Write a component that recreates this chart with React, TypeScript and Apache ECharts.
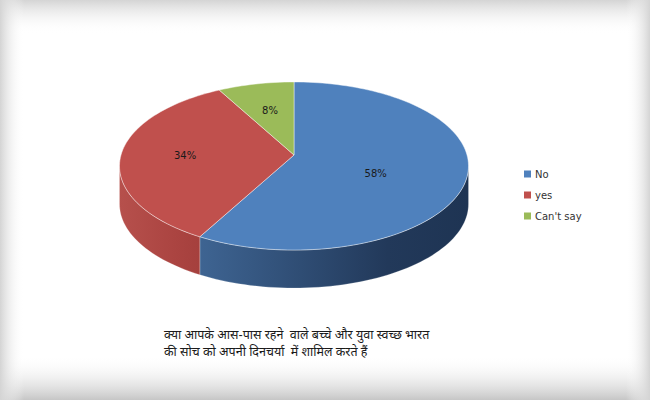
import React, { useEffect, useRef } from "react";
import * as echarts from "echarts";

// survey answers (percent)
const categories = ["No", "yes", "Can't say"];
const values = [58, 34, 8];
const topColors = ["#4f81bd", "#c0504d", "#9bbb59"];
const sideColors = [
  ["#3e6492", "#22395a", "#1e3453"],
  ["#b6504c", "#ab4441", "#a5403d"],
  ["#86a24a", "#7c9842", "#76913e"],
];
const labelRadius = [0.48, 0.63, 0.6];
const captionLines = [
  "क्या आपके आस-पास रहने  वाले बच्चे और युवा स्वच्छ भारत",
  "की सोच को अपनी दिनचर्या  में शामिल करते हैं",
];

// pie geometry (screen px)
const CX = 294;
const CY = 155;
const RX = 173;
const RY = 82.6;
const K = 0.131; // perspective
const DEPTH = 38;

const proj = (frac: number, r: number) => {
  const t = frac * Math.PI * 2;
  const u = r * Math.sin(t);
  const v = -r * Math.cos(t);
  const w = 1 / (1 - K * v);
  return [CX + RX * u * w, CY + RY * v * w];
};

const arc = (a: number, b: number) => {
  const pts: number[][] = [];
  const n = Math.max(2, Math.ceil((b - a) * 200));
  for (let i = 0; i <= n; i++) pts.push(proj(a + ((b - a) * i) / n, 1));
  return pts;
};

// visible front rim, as fractions of a turn
const FRONT_A = Math.acos(-K) / (Math.PI * 2);
const FRONT_B = 1 - FRONT_A;

const App: React.FC = () => {
  const chartRef = useRef<HTMLDivElement>(null);

  useEffect(() => {
    if (!chartRef.current) return;
    document.body.style.margin = "0";
    const myChart = echarts.init(chartRef.current, null, { renderer: "svg" });

    const total = values.reduce((s, v) => s + v, 0);
    const starts: number[] = [];
    let acc = 0;
    values.forEach((v) => {
      starts.push(acc / total);
      acc += v;
    });

    const series: any[] = categories.map((name, i) => ({
      name,
      type: "custom",
      coordinateSystem: "none",
      itemStyle: { color: topColors[i] },
      data: [[starts[i], starts[i] + values[i] / total, values[i]]],
      renderItem: (params: any, api: any) => {
        const a = api.value(0);
        const b = api.value(1);
        const children: any[] = [];
        const sa = Math.max(a, FRONT_A);
        const sb = Math.min(b, FRONT_B);
        if (sb > sa) {
          const rim = arc(sa, sb);
          const low = rim.map((p) => [p[0], p[1] + DEPTH]).reverse();
          children.push({
            type: "polygon",
            z2: 1,
            shape: { points: rim.concat(low) },
            style: {
              fill: new echarts.graphic.LinearGradient(0, 0, 1, 0, [
                { offset: 0, color: sideColors[i][0] },
                { offset: 0.7, color: sideColors[i][1] },
                { offset: 1, color: sideColors[i][2] },
              ]),
              stroke: "rgba(255,255,255,0.35)",
              lineWidth: 0.6,
            },
          });
        }
        children.push({
          type: "polygon",
          z2: 5,
          shape: { points: [[CX, CY]].concat(arc(a, b)) },
          style: {
            fill: topColors[i],
            stroke: "rgba(255,255,255,0.55)",
            lineWidth: 0.8,
          },
        });
        const lp = proj((a + b) / 2, labelRadius[i]);
        children.push({
          type: "text",
          z2: 10,
          x: lp[0],
          y: lp[1] + (i === 0 ? 8 : 0),
          style: {
            text: api.value(2) + "%",
            fill: "#1a1a1a",
            font: "10px 'DejaVu Sans'",
            align: "center",
            verticalAlign: "middle",
          },
        });
        return { type: "group", children };
      },
    }));

    const option: any = {
      animation: false,
      backgroundColor: "#ffffff",
      legend: {
        orient: "vertical",
        left: 519,
        top: 162,
        icon: "rect",
        itemWidth: 7,
        itemHeight: 7,
        itemGap: 7,
        data: categories,
        textStyle: {
          color: "#333333",
          fontSize: 10,
          lineHeight: 14,
          fontFamily: "DejaVu Sans",
          padding: [0, 0, 0, -1],
        },
      },
      graphic: [
        {
          type: "rect",
          left: 0,
          top: 0,
          shape: { width: 650, height: 34 },
          style: {
            fill: new echarts.graphic.LinearGradient(0, 0, 0, 1, [
              { offset: 0, color: "rgba(212,212,212,1)" },
              { offset: 1, color: "rgba(255,255,255,0)" },
            ]),
          },
          silent: true,
          z: -10,
        },
        {
          type: "rect",
          left: 0,
          top: 355,
          shape: { width: 650, height: 45 },
          style: {
            fill: new echarts.graphic.LinearGradient(0, 0, 0, 1, [
              { offset: 0, color: "rgba(255,255,255,0)" },
              { offset: 1, color: "rgba(198,198,198,1)" },
            ]),
          },
          silent: true,
          z: -10,
        },
        {
          type: "rect",
          left: 0,
          top: 0,
          shape: { width: 24, height: 400 },
          style: {
            fill: new echarts.graphic.LinearGradient(0, 0, 1, 0, [
              { offset: 0, color: "rgba(212,212,212,1)" },
              { offset: 1, color: "rgba(255,255,255,0)" },
            ]),
          },
          silent: true,
          z: -10,
        },
        {
          type: "rect",
          left: 626,
          top: 0,
          shape: { width: 24, height: 400 },
          style: {
            fill: new echarts.graphic.LinearGradient(0, 0, 1, 0, [
              { offset: 0, color: "rgba(255,255,255,0)" },
              { offset: 1, color: "rgba(212,212,212,1)" },
            ]),
          },
          silent: true,
          z: -10,
        },
        {
          type: "text",
          left: 164,
          top: 327,
          style: {
            text: captionLines.join("\n"),
            fill: "#1a1a1a",
            font: "12.5px 'Noto Sans Devanagari', 'Noto Sans', sans-serif",
            lineHeight: 17,
          },
          z: 10,
        },
      ],
      series,
    };

    myChart.setOption(option);

    return () => {
      myChart.dispose();
    };
  }, []);

  return <div ref={chartRef} style={{ width: 650, height: 400 }} />;
};

export default App;
